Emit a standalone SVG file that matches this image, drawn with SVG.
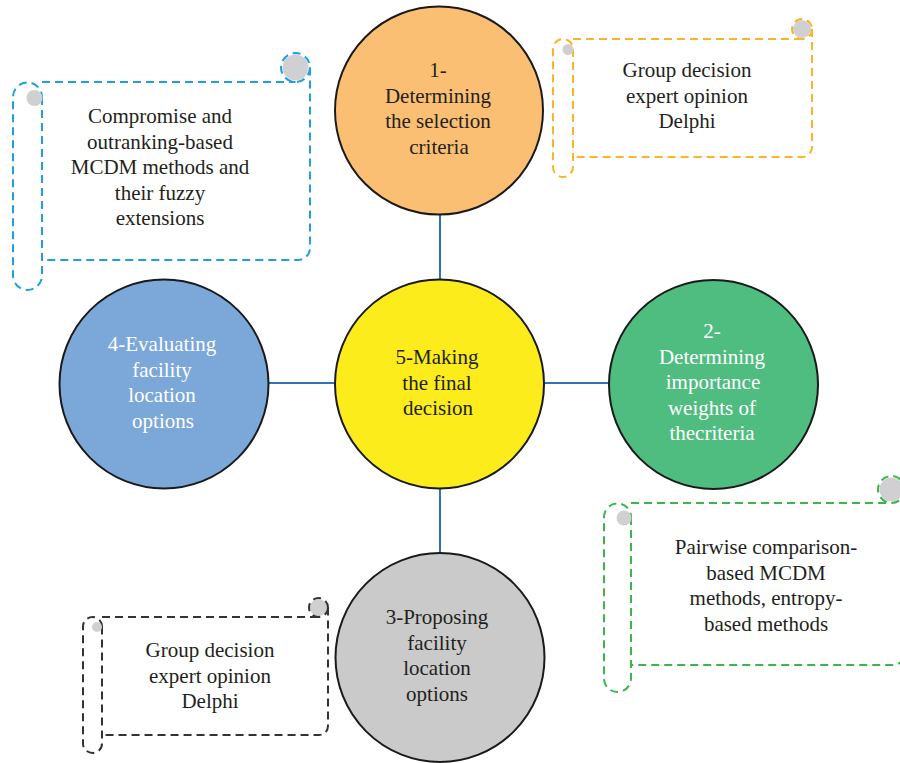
<svg xmlns="http://www.w3.org/2000/svg" width="900" height="763" viewBox="0 0 900 763">
<style>
.txt{font-family:"Liberation Serif","Times New Roman",serif;font-size:21px;fill:#231f20;text-anchor:middle}
.wt{fill:#ffffff}
.node{stroke:#1a1a1a;stroke-width:2}
.conn{stroke:#2e75b6;stroke-width:2;fill:none}
.scroll{fill:none;stroke-width:2;stroke-dasharray:8 5}
.curl{fill:#d0d0d2}
.blue{stroke:#1fa0dc}
.orange{stroke:#f9b42a}
.green{stroke:#3cb54a}
.black{stroke:#333333}
</style>
<rect width="900" height="763" fill="#ffffff"/>
<g id="connectors">
<line class="conn" x1="440" y1="212" x2="440" y2="282"/>
<line class="conn" x1="266" y1="383" x2="336" y2="383"/>
<line class="conn" x1="542" y1="383" x2="611" y2="383"/>
<line class="conn" x1="440" y1="486" x2="440" y2="556"/>
</g>
<g id="node1">
<circle class="node" cx="439" cy="110.5" r="104" fill="#fbbf73"/>
<text class="txt" x="438" y="77">1-</text>
<text class="txt" x="438" y="102.5">Determining</text>
<text class="txt" x="438" y="128">the selection</text>
<text class="txt" x="439" y="153.5">criteria</text>
</g>
<g id="node5">
<circle class="node" cx="439.5" cy="384" r="104.5" fill="#fcec1b"/>
<text class="txt" x="437" y="364">5-Making</text>
<text class="txt" x="437" y="389.5">the final</text>
<text class="txt" x="438" y="415">decision</text>
</g>
<g id="node4">
<circle class="node" cx="164" cy="384" r="104.5" fill="#7ba7d9"/>
<text class="txt wt" x="162" y="351">4-Evaluating</text>
<text class="txt wt" x="162" y="376.5">facility</text>
<text class="txt wt" x="162" y="402">location</text>
<text class="txt wt" x="163" y="427.5">options</text>
</g>
<g id="node2">
<circle class="node" cx="713.5" cy="384.5" r="104.5" fill="#4fbd80"/>
<text class="txt wt" x="712" y="338">2-</text>
<text class="txt wt" x="712" y="363.5">Determining</text>
<text class="txt wt" x="713" y="389">importance</text>
<text class="txt wt" x="712" y="414.5">weights of</text>
<text class="txt wt" x="712" y="440">thecriteria</text>
</g>
<g id="node3">
<circle class="node" cx="440" cy="657.5" r="104.5" fill="#cbcaca"/>
<text class="txt" x="437" y="624">3-Proposing</text>
<text class="txt" x="437" y="649.5">facility</text>
<text class="txt" x="437" y="675">location</text>
<text class="txt" x="437" y="700.5">options</text>
</g>
<g id="scroll-blue">
<circle class="curl" cx="295.5" cy="67.5" r="13"/>
<circle class="scroll blue" cx="295.5" cy="67.5" r="14.5"/>
<path class="scroll blue" d="M42,82 H295.5 M310,67.5 V248 A12 12 0 0 1 298,260 H42"/>
<path class="scroll blue" d="M42,97 V275.5 A14.5 14.5 0 0 1 13,275.5 V97 A14.5 14.5 0 0 1 42,97"/>
<circle class="curl" cx="34.5" cy="98" r="8"/>
<text class="txt" x="160" y="123">Compromise and</text>
<text class="txt" x="160" y="148.5">outranking-based</text>
<text class="txt" x="160" y="174">MCDM methods and</text>
<text class="txt" x="160" y="199.5">their fuzzy</text>
<text class="txt" x="160" y="225">extensions</text>
</g>
<g id="scroll-orange">
<circle class="curl" cx="802" cy="29" r="9"/>
<circle class="scroll orange" cx="802" cy="29" r="10"/>
<path class="scroll orange" d="M573,39 H802 M812,29 V147 A10 10 0 0 1 802,157 H573"/>
<path class="scroll orange" d="M573,49 V167 A10 10 0 0 1 553,167 V49 A10 10 0 0 1 573,49"/>
<circle class="curl" cx="568" cy="49.5" r="5.5"/>
<text class="txt" x="687" y="77">Group decision</text>
<text class="txt" x="687" y="102.5">expert opinion</text>
<text class="txt" x="687" y="128">Delphi</text>
</g>
<g id="scroll-green">
<circle class="curl" cx="891.5" cy="489.5" r="12"/>
<circle class="scroll green" cx="891.5" cy="489.5" r="13.5"/>
<path class="scroll green" d="M631,503 H891.5 M905,489.5 V653 A12 12 0 0 1 893,665 H631"/>
<path class="scroll green" d="M631,517 V678.5 A13.5 13.5 0 0 1 604,678.5 V517 A13.5 13.5 0 0 1 631,517"/>
<circle class="curl" cx="624" cy="518" r="7.5"/>
<text class="txt" x="766" y="554">Pairwise comparison-</text>
<text class="txt" x="766" y="579.5">based MCDM</text>
<text class="txt" x="766" y="605">methods, entropy-</text>
<text class="txt" x="766" y="630.5">based methods</text>
</g>
<g id="scroll-black">
<circle class="curl" cx="318.5" cy="607.5" r="8.5"/>
<circle class="scroll black" cx="318.5" cy="607.5" r="9.5"/>
<path class="scroll black" d="M102,617 H318.5 M328,607.5 V726 A9 9 0 0 1 319,735 H102"/>
<path class="scroll black" d="M102,626.5 V743.5 A9.5 9.5 0 0 1 83,743.5 V626.5 A9.5 9.5 0 0 1 102,626.5"/>
<circle class="curl" cx="97" cy="627" r="5"/>
<text class="txt" x="210" y="657">Group decision</text>
<text class="txt" x="210" y="682.5">expert opinion</text>
<text class="txt" x="210" y="708">Delphi</text>
</g>
</svg>
